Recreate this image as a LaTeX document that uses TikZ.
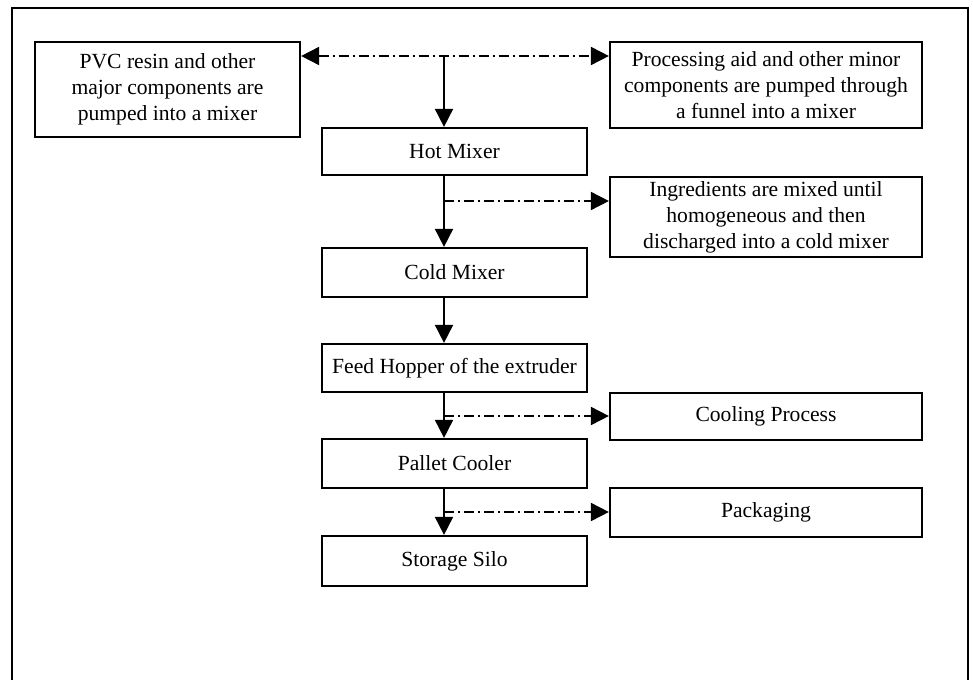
\documentclass[tikz,border=0pt]{standalone}
\usepackage{fontspec}
\setmainfont{Liberation Serif}
\usepackage{tikz}
\usetikzlibrary{arrows.meta,positioning}

\begin{document}
\begin{tikzpicture}[
  x=0.5pt,y=-0.5pt,
  font=\fontsize{10.8}{13}\selectfont,
  box/.style={draw,line width=1.1pt,align=center,inner sep=2pt,
              minimum width=132.5pt},
  side/.style={draw,line width=1.1pt,align=center,inner sep=2pt,
               minimum width=156pt},
  flow/.style={-{Triangle[length=9pt,width=9pt]},line width=0.9pt},
  aux/.style={-{Triangle[length=9pt,width=9pt]},line width=0.9pt,
              dash pattern=on 5pt off 2pt on 1pt off 2pt}]
  \useasboundingbox (0,0) rectangle (973,679);
  \draw[line width=1pt] (12,690) |- (968,8) -- (968,690);
  % inputs
  \node[box,minimum height=47.5pt] (pvc) at (167.5,89.5)
    {PVC resin and other\\major components are\\pumped into a mixer};
  \node[side,minimum height=43pt] (proc) at (766,85)
    {Processing aid and other minor\\components are pumped through\\a funnel into a mixer};
  % main line
  \node[box,minimum height=23.5pt] (hot) at (454.5,151.5) {Hot Mixer};
  \node[box,minimum height=24.5pt] (cold) at (454.5,272.5) {Cold Mixer};
  \node[box,minimum height=24pt] (feed) at (454.5,368) {Feed Hopper of the extruder};
  \node[box,minimum height=24.5pt] (pallet) at (454.5,463.5) {Pallet Cooler};
  \node[box,minimum height=25pt] (silo) at (454.5,561) {Storage Silo};
  % side notes
  \node[side,minimum height=40pt] (ingr) at (766,217)
    {Ingredients are mixed until\\homogeneous and then\\discharged into a cold mixer};
  \node[side,minimum height=23.5pt] (cool) at (766,416.5) {Cooling Process};
  \node[side,minimum height=24.5pt] (pack) at (766,512.5) {Packaging};
  % branch points on the spine
  \coordinate (top) at (444,56);
  \coordinate (b1) at (444,201);
  \coordinate (b2) at (444,416);
  \coordinate (b3) at (444,512);
  \draw[aux,{Triangle[length=9pt,width=9pt]}-{Triangle[length=9pt,width=9pt]}]
    (pvc.east |- top) -- (proc.west |- top);
  \draw[flow] (top) -- (hot.north -| top);
  \draw[flow] (hot.south -| top) -- (cold.north -| top);
  \draw[flow] (cold.south -| top) -- (feed.north -| top);
  \draw[flow] (feed.south -| top) -- (pallet.north -| top);
  \draw[flow] (pallet.south -| top) -- (silo.north -| top);
  \draw[aux] (b1) -- (b1 -| ingr.west);
  \draw[aux] (b2) -- (b2 -| cool.west);
  \draw[aux] (b3) -- (b3 -| pack.west);
\end{tikzpicture}
\end{document}
